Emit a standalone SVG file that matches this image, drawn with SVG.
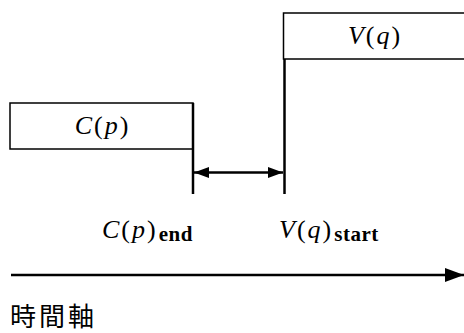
<svg xmlns="http://www.w3.org/2000/svg" width="464" height="333" viewBox="0 0 464 333">
<defs>
<style>
.box{fill:#fff;stroke:#000;stroke-width:1.5}
.ln{stroke:#000;stroke-width:2.5;fill:none}
.m{font-family:"Liberation Serif","Times New Roman",serif;font-size:26px;font-style:italic;fill:#000;letter-spacing:2px}
.up{font-style:normal}
.sub{font-family:"Liberation Serif","Times New Roman",serif;font-size:21px;font-weight:bold;font-style:normal;fill:#000;letter-spacing:0.5px}
.cjk{font-family:"Noto Sans CJK JP","Noto Sans CJK SC",sans-serif;font-size:26px;fill:#000;letter-spacing:3px}
</style>
<marker id="ah" viewBox="0 0 19 14" refX="19" refY="7" markerWidth="19" markerHeight="14" markerUnits="userSpaceOnUse" orient="auto-start-reverse">
<path d="M0,0 L19,7 L0,14 z" fill="#000"/>
</marker>
<marker id="ah2" viewBox="0 0 15 11" refX="15" refY="5.5" markerWidth="15" markerHeight="11" markerUnits="userSpaceOnUse" orient="auto-start-reverse">
<path d="M0,0 L15,5.5 L0,11 z" fill="#000"/>
</marker>
</defs>
<g id="node-vq">
<rect class="box" x="283.5" y="13" width="185" height="46"/>
<text class="m" x="375" y="44" text-anchor="middle">V<tspan class="up">(</tspan>q<tspan class="up">)</tspan></text>
</g>
<g id="node-cp">
<rect class="box" x="10" y="103" width="183" height="46"/>
<text class="m" x="102.5" y="134" text-anchor="middle">C<tspan class="up">(</tspan>p<tspan class="up">)</tspan></text>
</g>
<g id="label-cend">
<text class="m" x="102" y="238">C<tspan class="up">(</tspan>p<tspan class="up">)</tspan><tspan class="sub" dx="1" dy="3">end</tspan></text>
</g>
<g id="label-vstart">
<text class="m" x="279" y="238">V<tspan class="up">(</tspan>q<tspan class="up">)</tspan><tspan class="sub" dx="1" dy="3">start</tspan></text>
</g>
<g id="label-axis">
<text class="cjk" x="10" y="326">時間軸</text>
</g>
<g id="connectors">
<line class="ln" x1="193" y1="103" x2="193" y2="194"/>
<line class="ln" x1="284.5" y1="59" x2="284.5" y2="194"/>
<line class="ln" x1="194" y1="172.5" x2="283" y2="172.5" marker-start="url(#ah2)" marker-end="url(#ah2)"/>
<line class="ln" x1="11" y1="275" x2="464" y2="275" marker-end="url(#ah)"/>
</g>
</svg>
